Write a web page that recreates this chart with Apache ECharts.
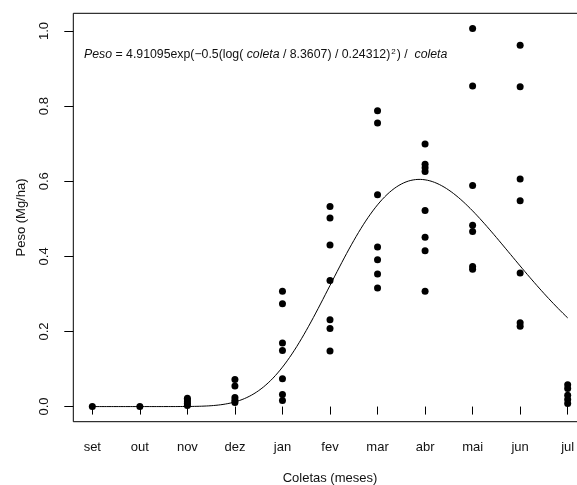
<!DOCTYPE html>
<html>
<head>
<meta charset="utf-8">
<script src="https://cdn.jsdelivr.net/npm/echarts@6/dist/echarts.min.js"></script>
<style>
  html, body { margin: 0; padding: 0; background: #fff; }
  #chart { width: 577px; height: 485px; }
</style>
</head>
<body>
<div id="chart"></div>
<script>
// Collection months (coleta = 1..11)
const months = ['set', 'out', 'nov', 'dez', 'jan', 'fev', 'mar', 'abr', 'mai', 'jun', 'jul'];

// Observed dry weight (Mg/ha) per collection
const pesoSet = [0.0];
const pesoOut = [0.0];
const pesoNov = [0.003, 0.008, 0.013, 0.018, 0.022];
const pesoDez = [0.072, 0.055, 0.024, 0.017, 0.011];
const pesoJan = [0.307, 0.274, 0.169, 0.149, 0.074, 0.032, 0.016];
const pesoFev = [0.533, 0.502, 0.430, 0.336, 0.231, 0.208, 0.148];
const pesoMar = [0.788, 0.755, 0.564, 0.425, 0.391, 0.353, 0.316];
const pesoAbr = [0.699, 0.645, 0.636, 0.626, 0.522, 0.451, 0.415, 0.307];
const pesoMai = [1.007, 0.854, 0.589, 0.483, 0.466, 0.373, 0.366];
const pesoJun = [0.962, 0.852, 0.606, 0.548, 0.356, 0.223, 0.214];
const pesoJul = [0.058, 0.048, 0.030, 0.019, 0.008];

const pesoByMonth = [pesoSet, pesoOut, pesoNov, pesoDez, pesoJan, pesoFev,
                     pesoMar, pesoAbr, pesoMai, pesoJun, pesoJul];

// Y tick values
const yTicks = [0.0, 0.2, 0.4, 0.6, 0.8, 1.0];
const xTicks = months.map((m, i) => i + 1);

// Fitted log-normal model parameters
const fitA = 4.91095;
const fitMu = 8.3607;
const fitSigma = 0.24312;

const points = [];
pesoByMonth.forEach((vals, i) => vals.forEach(v => points.push([i + 1, v])));

const curve = [];
for (let k = 0; k <= 200; k++) {
  const x = 1 + 10 * k / 200;
  const z = Math.log(x / fitMu) / fitSigma;
  curve.push([x, fitA * Math.exp(-0.5 * z * z) / x]);
}

const FONT = 'Liberation Sans, Arial, sans-serif';
const chart = echarts.init(document.getElementById('chart'), null, { renderer: 'canvas' });

chart.setOption({
  animation: false,
  backgroundColor: '#ffffff',
  grid: {
    left: 73.3, top: 13.3, width: 513.4, height: 408.4,
    outerBoundsMode: 'none', containLabel: false,
    show: true, borderColor: '#000', borderWidth: 1, backgroundColor: 'transparent'
  },
  xAxis: {
    type: 'value', min: 0.6, max: 11.4,
    splitLine: { show: false },
    axisLine: { show: false },
    axisTick: { show: true, inside: false, length: 8, customValues: xTicks,
                lineStyle: { color: '#000', width: 1 } },
    axisLabel: { customValues: xTicks, margin: 19, fontFamily: FONT, fontSize: 13, color: '#111',
                 hideOverlap: false, formatter: v => months[Math.round(v) - 1] || '' },
    name: 'Coletas (meses)', nameLocation: 'middle', nameGap: 50,
    nameTextStyle: { fontFamily: FONT, fontSize: 13, color: '#111' }
  },
  yAxis: {
    type: 'value', min: -0.0403, max: 1.0473,
    splitLine: { show: false },
    axisLine: { show: false },
    axisTick: { show: true, inside: false, length: 9, customValues: yTicks,
                lineStyle: { color: '#000', width: 1 } },
    axisLabel: { customValues: yTicks, rotate: 90, margin: 22, fontFamily: FONT, fontSize: 13, color: '#111',
                 formatter: v => v.toFixed(1) },
    name: 'Peso (Mg/ha)', nameLocation: 'middle', nameRotate: 90, nameGap: 45,
    nameTextStyle: { fontFamily: FONT, fontSize: 13, color: '#111' }
  },
  graphic: [{
    type: 'text', left: 84, top: 48, silent: true,
    style: {
      text: '{i|Peso} = 4.91095exp(−0.5(log( {i|coleta} / 8.3607) / 0.24312){s|2}) /  {i|coleta}',
      fontFamily: FONT, fontSize: 12.3, fill: '#111',
      rich: {
        i: { fontFamily: FONT, fontSize: 12.3, fontStyle: 'italic', fill: '#111' },
        s: { fontFamily: FONT, fontSize: 8, fill: '#111', verticalAlign: 'top', padding: [0, 1, 6, 1] }
      }
    }
  }],
  series: [
    {
      type: 'scatter', data: points, symbol: 'circle', symbolSize: 7,
      itemStyle: { color: '#000', opacity: 1 }, z: 3
    },
    {
      type: 'line', data: curve, showSymbol: false, symbol: 'none', smooth: false,
      lineStyle: { color: '#000', width: 1 }, z: 2
    }
  ]
});
</script>
</body>
</html>
